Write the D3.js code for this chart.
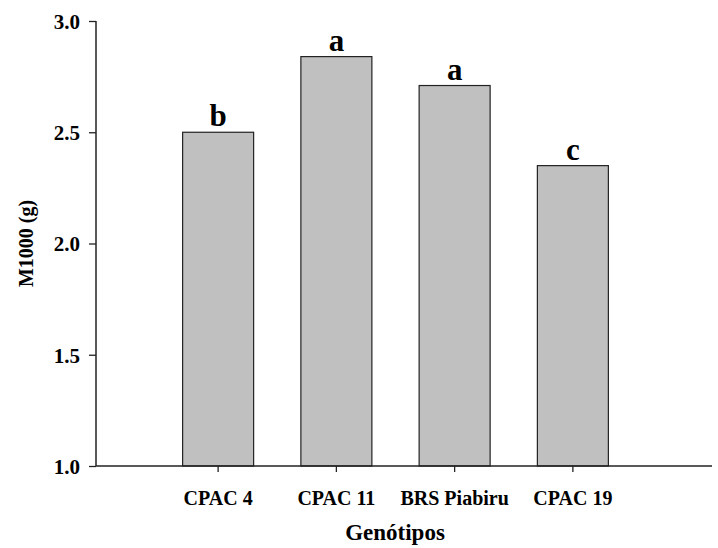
<!DOCTYPE html>
<html><head><meta charset="utf-8">
<script src="https://cdn.jsdelivr.net/npm/d3@7"></script>
<style>body{margin:0;background:#fff}svg{display:block}text{font-family:"Liberation Serif","Times New Roman",serif !important;font-weight:bold;fill:#000}</style>
</head><body>
<script>
const categories = ["CPAC 4", "CPAC 11", "BRS Piabiru", "CPAC 19"];
const values = [2.50, 2.84, 2.71, 2.35];
const letters = ["b", "a", "a", "c"];
const yTicks = [1.0, 1.5, 2.0, 2.5, 3.0];

const W = 718, H = 548;
const svg = d3.select("body").append("svg").attr("width", W).attr("height", H)
  .attr("font-family", "Liberation Serif");

const x0 = 96, x1 = 712, yTop = 21, yBot = 466;
const y = d3.scaleLinear().domain([1, 3]).range([yBot, yTop]);
const x = d3.scaleBand().domain(categories).range([159, 632]).paddingInner(0.4).paddingOuter(0.2);
const cx = d => x(d) + x.bandwidth() / 2;
const barW = 71;

// bars
svg.selectAll("rect.bar").data(categories).enter().append("rect")
  .attr("x", d => cx(d) - barW / 2)
  .attr("y", (d, i) => y(values[i]))
  .attr("width", barW)
  .attr("height", (d, i) => y(1) - y(values[i]))
  .attr("fill", "#c0c0c0").attr("stroke", "#222").attr("stroke-width", 1.2);

// letters
svg.selectAll("text.let").data(categories).enter().append("text")
  .attr("x", d => cx(d)).attr("y", (d, i) => y(values[i]) - 6)
  .attr("text-anchor", "middle").style("font-size", "31px")
  .text((d, i) => letters[i]);

// y axis
const yAxis = d3.axisLeft(y).tickValues(yTicks).tickFormat(d3.format(".1f")).tickSize(7).tickPadding(9);
const gy = svg.append("g").attr("transform", `translate(${x0},0)`).call(yAxis)
  .attr("font-family", "Liberation Serif");
gy.select(".domain").remove();
gy.selectAll("line").attr("stroke", "#222").attr("stroke-width", 1.3);
gy.selectAll("text").style("font-size", "21px").attr("dy", "0.35em");
svg.append("line").attr("x1", x0).attr("x2", x0).attr("y1", yTop).attr("y2", yBot)
  .attr("stroke", "#222").attr("stroke-width", 1.5);

// x axis
const xAxis = d3.axisBottom(x).tickSize(6).tickPadding(19);
const gx = svg.append("g").attr("transform", `translate(0,${yBot})`).call(xAxis)
  .attr("font-family", "Liberation Serif");
gx.select(".domain").remove();
gx.selectAll("line").attr("stroke", "#222").attr("stroke-width", 1.3);
gx.selectAll("text").style("font-size", "20px").attr("dy", "0.71em");
svg.append("line").attr("x1", x0).attr("x2", x1).attr("y1", yBot).attr("y2", yBot)
  .attr("stroke", "#222").attr("stroke-width", 1.5);

// axis titles
svg.append("text").attr("x", 395).attr("y", 540).attr("text-anchor", "middle")
  .style("font-size", "23px").text("Genótipos");
svg.append("text").attr("transform", `translate(33,${(yTop + yBot) / 2}) rotate(-90)`)
  .attr("text-anchor", "middle").style("font-size", "20px").text("M1000 (g)");
</script>
</body></html>
